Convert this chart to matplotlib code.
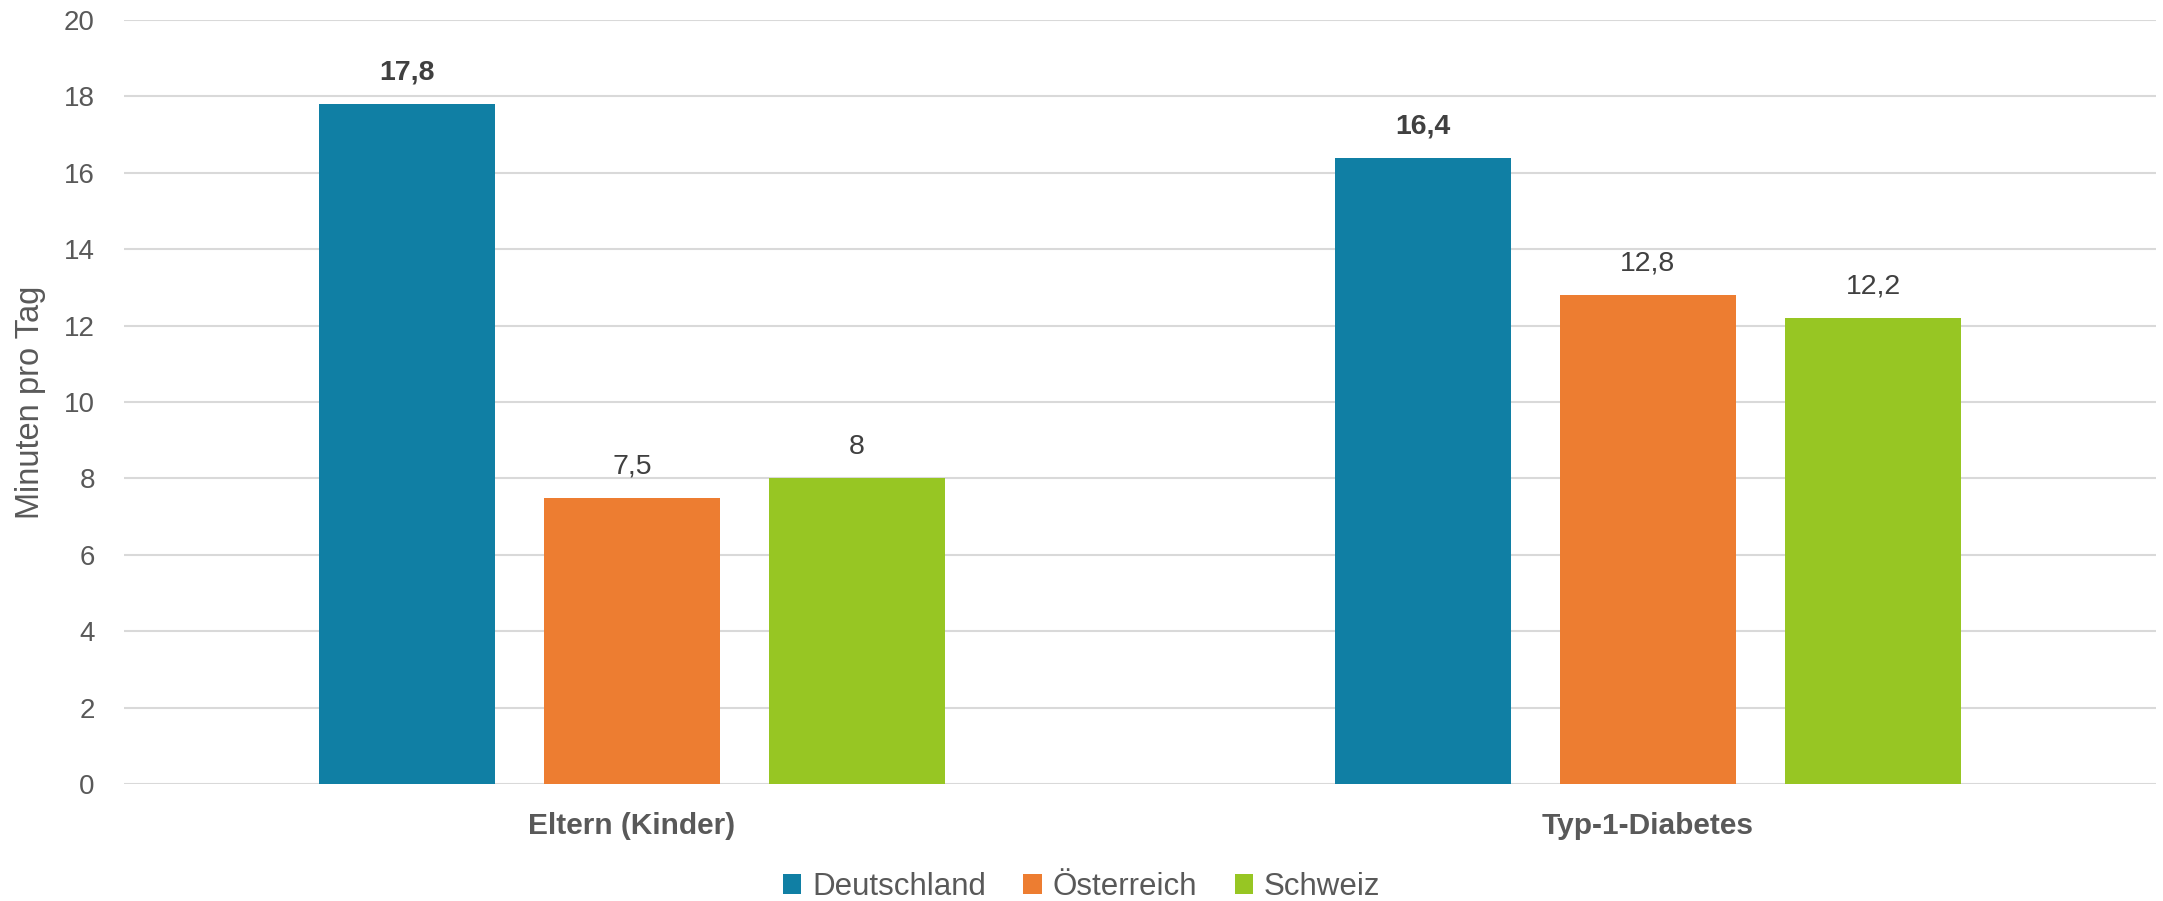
import matplotlib
matplotlib.use("Agg")
import matplotlib.pyplot as plt
import numpy as np

categories = ["Eltern (Kinder)", "Typ-1-Diabetes"]
series_names = ["Deutschland", "Österreich", "Schweiz"]
deutschland = [17.8, 16.4]
oesterreich = [7.5, 12.8]
schweiz = [8.0, 12.2]
label_texts = [["17,8", "16,4"], ["7,5", "12,8"], ["8", "12,2"]]
bold_series = [True, False, False]
y_ticks = [0, 2, 4, 6, 8, 10, 12, 14, 16, 18, 20]
y_label = "Minuten pro Tag"

colors = ["#107FA4", "#ED7D31", "#97C623"]
values = [deutschland, oesterreich, schweiz]

plt.rcParams['font.family'] = ['Liberation Sans', 'DejaVu Sans']

fig = plt.figure(figsize=(21.63, 9.01), dpi=100)
ax = fig.add_axes([124/2163, 1-784/901, (2156-124)/2163, (784-20)/901])

x = np.arange(len(categories))
width = 0.174
pitch = 0.2215
for i, (name, vals, col) in enumerate(zip(series_names, values, colors)):
    pos = x + (i - 1) * pitch
    ax.bar(pos, vals, width=width, color=col, label=name, zorder=3)
    for p, v, t in zip(pos, vals, label_texts[i]):
        ax.annotate(t, (p, v), xytext=(0, 22.5), textcoords="offset points",
                    ha="center", va="center", fontsize=20.5, color="#404040",
                    fontweight="bold" if bold_series[i] else "normal")

ax.set_xlim(-0.5, 1.5)
ax.set_ylim(0, 20)
ax.set_yticks(y_ticks)
ax.set_yticklabels([str(t) for t in y_ticks])
ax.set_xticks(x)
ax.set_xticklabels(categories, fontweight="bold")
ax.tick_params(axis="y", length=0, pad=21, labelsize=20, labelcolor="#595959")
ax.tick_params(axis="x", length=0, pad=20, labelsize=21.5, labelcolor="#595959")
for s in ax.spines.values():
    s.set_visible(False)
ax.yaxis.grid(True, color="#D9D9D9", linewidth=1.5, zorder=0)
ax.set_axisbelow(True)
ax.set_ylabel(y_label, fontsize=23.5, color="#595959")
ax.yaxis.set_label_coords((46-124)/2032, 0.5)

fig.legend(loc="center", bbox_to_anchor=(0.5, 1-887/901), ncol=3, frameon=False,
           fontsize=22.5, handlelength=0.58, handleheight=0.58, handletextpad=0.35,
           columnspacing=1.2, labelcolor="#595959")

fig.savefig("out.png", dpi=100)
